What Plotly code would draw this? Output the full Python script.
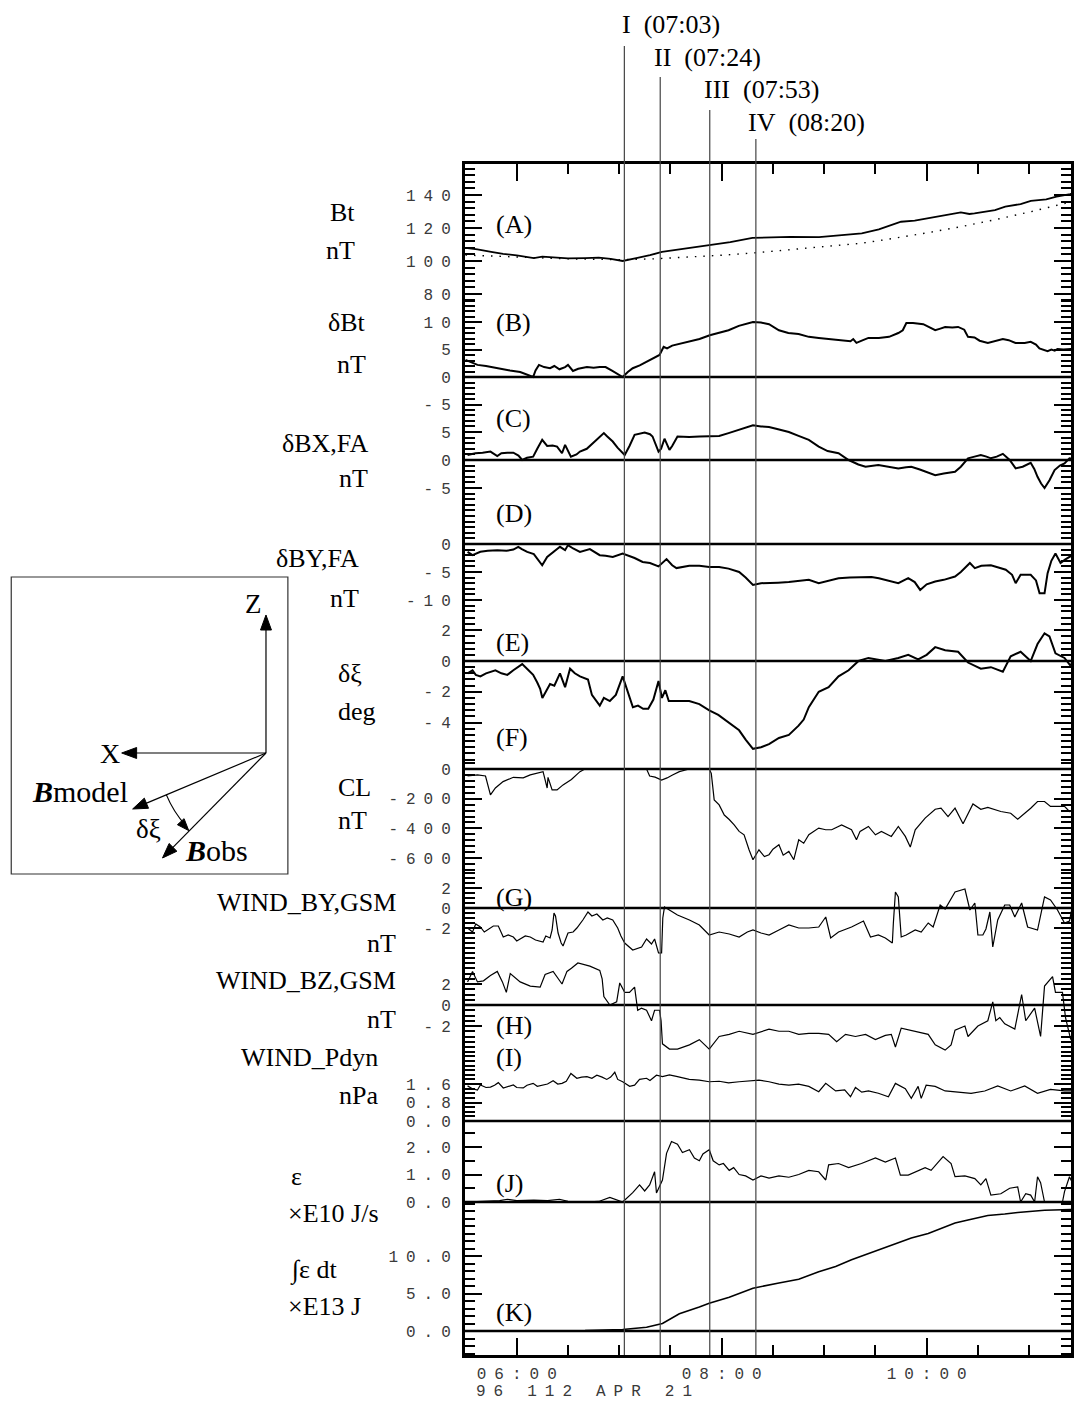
import numpy as np
import plotly.graph_objects as go

# ---------------- data (time = minutes of day, UT, 1996 APR 21) ----------------
bt_t = [330, 337, 345, 352, 360, 366, 370, 375, 380, 390, 400, 408, 415, 422, 430, 438, 445, 455, 465, 473,
        485, 498, 510, 520, 537, 550, 562, 572, 585, 593, 601, 610, 620, 625, 628, 640, 646, 655, 661, 670, 676, 684, 685.3]
bt_v = [107.9, 107.0, 105.5, 104.3, 103.4, 102.2, 101.8, 102.6, 102.2, 101.6, 101.8, 102.0, 101.3, 100.0, 101.8, 103.5,
        105.5, 107.0, 108.8, 109.7, 111.5, 114.0, 114.3, 114.6, 114.5, 115.5, 116.8, 119.2, 123.8, 124.5, 125.9, 127.5,
        129.5, 128.5, 128.8, 130.9, 132.9, 134.5, 136.5, 137.4, 139.0, 140.5, 141.0]
btmod_t = [330, 345, 360, 370, 390, 410, 422, 440, 460, 480, 500, 520, 537, 550, 562, 575, 585, 600, 620, 640, 661, 685.3]
btmod_v = [103.6, 103.0, 102.3, 102.0, 101.3, 101.0, 100.8, 101.3, 102.3, 103.5, 105.0, 106.8, 108.1, 109.3, 110.8,
           112.8, 114.4, 117.0, 120.8, 125.0, 129.9, 136.0]

dbt_t = [330, 337, 342, 348, 352, 356, 362, 366, 369.6, 371, 373, 376, 379.5, 382, 385, 388.3, 390, 392.9, 396, 401.1,
         405, 408.6, 412, 416, 419, 422, 425, 427.9, 432, 437.8, 440, 443.6, 446, 448, 451, 455, 461, 467, 473, 478.5,
         484, 490, 494, 498.3, 503, 507.7, 513.5, 519, 525, 531, 536.8, 542, 548.4, 555.4, 557, 558.9, 562, 565.9, 572,
         578, 583.4, 586, 588.1, 592, 598, 603, 605, 608, 610.8, 615, 618.4, 622, 624.2, 628, 631, 635.8, 640, 644.6,
         648, 652, 657.4, 660.9, 664, 666, 670.8, 673, 675, 676.6, 680, 685.3]
dbt_v = [3.1, 2.2, 2.0, 1.6, 1.4, 1.2, 0.9, 0.5, 0.0, 1.2, 2.2, 1.8, 1.6, 2.0, 1.4, 1.8, 2.2, 1.1, 1.5, 1.8,
         1.7, 1.8, 1.8, 1.1, 0.6, 0.0, 0.9, 1.6, 2.1, 3.1, 3.4, 4.0, 5.5, 5.2, 5.7, 6.0, 6.5, 6.9, 7.6, 8.0,
         8.5, 9.3, 9.6, 10.0, 9.9, 9.6, 8.5, 8.0, 7.8, 7.3, 7.1, 6.9, 6.7, 6.5, 6.9, 6.2, 6.6, 7.1, 7.1,
         7.3, 8.0, 8.5, 9.8, 9.8, 9.6, 8.9, 8.5, 8.8, 9.1, 9.0, 9.1, 8.6, 7.3, 7.2, 6.6, 6.2, 6.5, 6.9,
         6.7, 6.2, 6.2, 6.4, 5.9, 5.2, 4.7, 5.0, 4.8, 5.1, 5.0, 5.1]

dbx_t = [331.2, 335.8, 340, 344.6, 348.6, 351, 354.5, 358, 361, 363.2, 366, 369.6, 372, 374.9, 377.8, 381, 383.6,
         386.5, 388.3, 390, 391.7, 395, 397, 401, 404.6, 408, 411, 413, 416.2, 419, 423.2, 426, 429, 434.9, 438,
         439.5, 443, 444.5, 446.5, 449.4, 451, 454.1, 461, 467, 473, 478.5, 484, 490.2, 498.3, 503, 507.7, 513,
         519.3, 525, 531, 536.8, 542, 548.4, 554.3, 560, 564.2, 571.7, 578, 583.4, 588, 591, 596, 600, 605, 610,
         616.6, 620, 624.2, 628, 631.7, 635, 637.6, 641, 644.6, 648.6, 652.1, 656.2, 660.9, 663, 664.9, 667, 669,
         671.9, 674.9, 678, 680.7, 683.6, 685.3]
dbx_v = [0.9, 1.2, 1.3, 1.5, 0.7, 1.2, 1.3, 1.3, 0.8, 0.0, 0.4, 0.6, 2.0, 3.6, 2.5, 2.6, 2.4,
         1.2, 2.7, 1.5, 0.6, 1.0, 1.5, 2.0, 3.0, 3.8, 4.8, 4.2, 3.3, 2.2, 0.9, 2.5, 4.5, 4.9, 4.6,
         4.2, 1.5, 2.0, 3.8, 1.8, 2.5, 4.2, 4.1, 4.2, 4.3, 4.3, 4.8, 5.4, 6.2, 6.0, 5.9, 5.5,
         5.0, 4.3, 3.6, 2.4, 1.6, 1.2, 0.0, -0.8, -1.2, -0.9, -1.2, -1.5, -1.3, -1.2, -1.7, -2.2, -2.7, -2.4,
         -2.1, -1.2, 0.3, 0.6, 0.9, 0.6, 0.3, 0.6, 1.1, 0.0, -1.5, -1.2, -0.5, -1.6, -3.0, -4.2, -5.0,
         -3.6, -1.8, -1.0, -0.6, 0.3, 0.2]

dby_t = [331.2, 334.1, 338.7, 343, 348.6, 354, 358, 360.9, 363, 366.1, 370, 371.9, 374.9, 377.8, 381, 385.3, 388.3,
         390, 393, 397, 402.8, 408.6, 412, 416.2, 422, 425, 429, 433.7, 438, 443, 447.7, 451, 453.5, 461, 466.9,
         472.7, 478.5, 484, 490.2, 494, 498.3, 503, 507.7, 513, 519.3, 525, 531, 536.8, 542, 548.4, 555, 562,
         567.7, 572, 575.8, 580, 583.4, 589.2, 593, 596.2, 600, 605, 610, 616.6, 620, 625.3, 628.2, 632, 637.6,
         642, 646.3, 650, 652.1, 655, 660.9, 664, 666.1, 669, 670.8, 673, 675.4, 678.4, 681, 685.3]
dby_v = [-1.4, -2.0, -1.4, -1.2, -1.1, -1.2, -1.0, -0.5, -0.9, -1.4, -1.8, -2.5, -3.8, -2.3, -1.5, -0.5, -1.1,
         -0.2, -0.8, -1.4, -0.9, -2.0, -2.1, -2.3, -1.7, -2.0, -2.5, -3.2, -3.4, -4.0, -2.7, -3.8, -4.3, -3.9, -3.9,
         -4.1, -4.1, -4.4, -5.0, -6.0, -7.3, -7.0, -7.0, -6.9, -6.8, -6.6, -6.4, -7.0, -6.6, -6.1, -6.0, -6.0,
         -5.9, -6.1, -6.4, -6.7, -7.0, -6.1, -6.8, -8.2, -7.2, -6.7, -6.4, -5.8, -5.0, -3.4, -4.3, -3.9, -3.8,
         -4.2, -4.6, -5.5, -7.0, -5.5, -5.5, -6.5, -8.8, -8.8, -5.2, -3.0, -1.7, -3.4, -2.8, -2.0]

dxi_t = [331.2, 334.1, 336, 338.7, 342, 347.5, 351, 354.5, 358, 363.2, 366, 369.6, 372, 373.7, 375, 377, 379.5, 382,
         385.3, 388.3, 391.2, 394, 397, 401.7, 404, 408.6, 411, 414.5, 418, 422, 425, 428, 431, 434, 437, 440, 443,
         445, 447, 449, 455.2, 461, 466.9, 472.7, 478, 484.4, 490.2, 494, 498.3, 503, 507.7, 513.5, 519.3, 525, 528,
         531, 536.8, 542.6, 548.4, 554.3, 560.1, 565.9, 575.8, 583.4, 589.2, 595, 600, 605, 610.8, 618.4, 624.2,
         631.7, 637.6, 644.6, 649.2, 655, 660.9, 664.9, 669, 671.9, 675.4, 680.7, 684.2, 685.3]
dxi_v = [-0.8, -0.6, -0.9, -1.0, -0.8, -0.6, -0.8, -0.9, -0.6, -0.2, -0.5, -0.9, -1.4, -1.8, -2.4, -2.0, -1.5, -1.6,
         -0.8, -1.7, -0.5, -0.8, -1.0, -1.2, -2.2, -2.9, -2.4, -2.6, -2.2, -1.0, -2.0, -3.0, -2.9, -3.1, -3.1, -2.5, -1.3,
         -2.4, -1.9, -2.6, -2.6, -2.6, -2.8, -3.2, -3.5, -4.0, -4.5, -5.1, -5.7, -5.6, -5.4, -5.0, -4.8, -4.2, -3.8,
         -3.0, -2.0, -1.7, -1.0, -0.6, 0.0, 0.2, 0.0, 0.2, 0.4, 0.1, 0.4, 0.9, 0.7, 0.6, -0.1,
         -0.5, -0.4, -0.7, 0.3, 0.6, 0.0, 1.1, 1.8, 1.6, 0.5, 0.2, -0.3, -0.1]

cl_t = [331.2, 337, 341.7, 344.6, 347.5, 352, 358, 363.8, 367.9, 371.9, 375.4, 377.8, 378.3, 380.7, 383.6, 387.1,
        392, 397, 399.9, 412.7, 420, 430, 436, 437.8, 441, 444.8, 448, 451.2, 455.2, 461, 466.9, 472.7, 473.9,
        475.6, 478.5, 481.5, 484.4, 487.3, 490.2, 493.1, 496, 498.3, 501.8, 505, 507.7, 510, 513.5, 516, 519.3,
        522.2, 525.1, 528, 531, 533.9, 536.8, 540.9, 544.4, 550.2, 556, 558.9, 561, 565.9, 570, 573.5, 579.3,
        583.4, 587.5, 590.4, 593.3, 599.1, 605, 608.4, 612.5, 616.6, 621.3, 627.1, 631.7, 635.8, 643.4, 649.2,
        653.3, 660.9, 664.9, 669, 672.5, 680.7, 683.6, 685.3]
cl_v = [-47, -40, -47, -174, -128, -85, -56, -60, -40, -29, -18, -128, -56, -141, -141, -107,
        -70, -18, 0, 0, 0, -2, 0, -47, -55, -74, -60, -40, -18, 0, 0, 0, -30,
        -208, -242, -310, -340, -376, -420, -443, -544, -611, -544, -590, -577, -540, -510, -580, -555,
        -611, -477, -500, -443, -420, -398, -409, -409, -376, -409, -477, -420, -387, -443, -421, -454,
        -387, -454, -526, -409, -331, -271, -264, -320, -264, -369, -235, -271, -258, -286, -298,
        -338, -264, -219, -219, -252, -252, -286, -280]

wby_t = [331.2, 334.1, 336, 338.7, 341, 342.8, 346.3, 349.2, 352.1, 355, 358, 360, 362, 365, 367.9, 371, 375.4,
         377, 379.5, 380.7, 381.8, 382.7, 384.2, 386, 387.1, 390, 393, 395.2, 398.7, 401.7, 404, 406.9, 410.4, 413,
         416.2, 419.1, 421, 423.2, 427.9, 433.1, 436, 438.9, 440.7, 443, 444.8, 445.5, 446.5, 449.4, 454.1, 461.1,
         466.9, 472.7, 478.5, 484.4, 490.2, 495, 498.3, 503, 507.7, 513.5, 519.3, 525.1, 531, 536.8, 540.9, 543.8,
         548.4, 556, 563, 567.1, 571.7, 575.8, 579.9, 580.5, 581.7, 583.4, 585.1, 588, 593.3, 596.8, 600.9, 603.8,
         607.9, 610.8, 613, 616.6, 622.4, 625.3, 628.2, 630, 632.9, 634.7, 637, 638.7, 641.6, 645.7, 648.6, 651.6,
         655.6, 659.1, 664.9, 669, 672.5, 676.6, 680.7, 683.6, 685.3]
wby_v = [-2.0, -2.4, -1.6, -1.9, -2.4, -2.2, -1.8, -1.8, -2.9, -2.7, -2.9, -3.3, -3.1, -2.8, -2.9, -3.2, -3.4,
         -2.8, -3.0, -2.2, -0.5, -0.8, -2.5, -3.5, -3.8, -2.5, -2.4, -2.0, -1.2, -0.4, -0.8, -0.6, -1.2, -1.0,
         -1.2, -2.0, -2.8, -3.5, -4.2, -3.9, -3.1, -3.6, -3.1, -4.5, -4.5, -1.0, 0.1, -0.2, -0.7, -1.2,
         -1.7, -2.7, -2.4, -2.6, -2.9, -2.4, -2.2, -2.5, -2.7, -2.2, -1.7, -2.0, -2.0, -1.9, -0.9, -3.0,
         -2.4, -1.9, -1.3, -2.9, -2.7, -3.0, -3.5, -1.5, 1.6, 1.1, -2.9, -2.7, -2.2, -2.4, -1.5, -1.9,
         0.3, -0.1, 0.6, 1.6, 1.9, -0.2, 0.5, -2.7, -2.7, -2.1, -0.4, -3.9, -1.2, 0.3, 0.3, -0.9,
         0.5, -1.9, -2.2, 1.1, 0.8, -0.2, -1.5, -1.3, 0.2]

wbz_t = [331.2, 334.1, 337, 340.5, 344.6, 348.6, 351.6, 353.9, 356.2, 359, 362, 367.9, 373.7, 376.6, 381.3, 386.5,
         389.4, 392, 395.8, 402.8, 408.6, 410, 411, 414.5, 418.5, 420.3, 423.2, 426, 429, 430.8, 433, 436, 438.9,
         440.7, 443.6, 444.5, 445.3, 449.4, 454.1, 461.1, 466.9, 472.7, 478.5, 484.4, 490.2, 498.3, 507.7, 513.5,
         519.3, 525.1, 531, 536.8, 542.6, 547.3, 552.5, 558.3, 564.2, 570, 575.8, 579.3, 581.7, 585.1, 593.3,
         600.9, 605, 610.8, 614.3, 616.6, 622.4, 624.2, 630, 635.8, 638.7, 640.5, 642.8, 645.7, 651.6, 655.6, 658,
         663.2, 666.7, 669, 673.7, 675.4, 679.5, 681.3, 684.2, 685.3]
wbz_v = [2.2, 3.2, 2.2, 2.3, 2.8, 3.2, 2.2, 1.2, 3.0, 2.6, 2.2, 1.8, 1.7, 2.9, 3.2, 2.0,
         3.2, 3.5, 4.0, 3.7, 3.3, 2.5, 0.8, 0.0, 0.3, 2.1, 1.2, 1.2, 1.7, -0.5, -0.3, -0.5, -1.5,
         -0.5, -0.5, -1.5, -3.7, -4.2, -4.2, -3.8, -3.3, -4.2, -3.0, -2.8, -2.5, -2.8, -2.3, -2.5,
         -2.5, -2.8, -2.7, -2.7, -2.8, -3.5, -2.8, -3.0, -2.8, -3.3, -2.9, -2.8, -4.0, -2.2, -2.5,
         -2.8, -3.8, -4.3, -3.8, -2.4, -2.0, -3.0, -2.0, -1.5, 0.3, -1.5, -1.2, -1.8, -2.3, 1.0, -1.5,
         -0.3, -3.0, 1.8, 2.7, 1.2, 1.2, -1.2, -3.2, -3.5]

pdyn_t = [331.2, 334, 337, 338.7, 342, 344.6, 347, 349.2, 352.1, 355, 358, 360, 363.8, 366, 369.6, 372, 375.4, 378,
          381.3, 384, 386.5, 389, 391.7, 395.2, 398, 401.1, 404, 406.9, 410, 412.7, 415, 417.4, 419.1, 422, 426.1,
          429, 431.9, 436, 438, 441.8, 445.3, 449.4, 454.1, 461, 466.9, 472.7, 478.5, 484, 490.2, 496, 501.8, 507.7,
          513.5, 519.3, 525, 531, 536.8, 540.9, 546.7, 552, 555.4, 558.3, 562, 565.9, 571.7, 577.6, 581.7, 587.5,
          591, 595, 596.8, 599.7, 605, 610.8, 618.4, 626, 634, 641.6, 649.2, 657.4, 664.9, 672.5, 680.7, 685.3]
pdyn_v = [1.52, 1.40, 1.34, 1.56, 1.45, 1.47, 1.55, 1.66, 1.43, 1.50, 1.56, 1.45, 1.43, 1.55, 1.63, 1.50, 1.56, 1.60,
          1.74, 1.60, 1.63, 1.72, 2.06, 1.85, 1.90, 1.92, 1.85, 1.98, 1.90, 1.80, 1.90, 2.11, 1.80, 1.70, 1.50,
          1.55, 1.80, 1.85, 1.75, 1.98, 1.92, 2.00, 1.92, 1.80, 1.77, 1.70, 1.72, 1.65, 1.70, 1.75, 1.77, 1.70,
          1.60, 1.55, 1.60, 1.50, 1.27, 1.63, 1.30, 1.35, 1.05, 1.45, 1.25, 1.30, 1.20, 1.05, 1.63, 1.40,
          0.98, 1.50, 0.98, 1.55, 1.50, 1.30, 1.25, 1.20, 1.30, 1.52, 1.30, 1.52, 1.20, 1.37, 1.30, 1.30]

eps_t = [330, 340, 350, 354.5, 360, 370, 378, 385, 390, 400, 408, 414.5, 418, 422, 427.9, 431.9, 434.9, 437.8,
         440.7, 441.8, 445.3, 447.7, 450.6, 454.1, 457, 461.1, 464, 466.9, 469, 472.7, 475, 478.5, 481, 484.4, 487,
         490.2, 494, 498.3, 503, 507.7, 513.5, 519.3, 525.1, 531, 536.8, 540.9, 542.6, 548.4, 554.3, 561.8, 570,
         575.8, 581.7, 584.6, 589.2, 595, 599.1, 602.6, 609.6, 614.3, 616.6, 622.4, 628.2, 631.7, 634.7, 637.6,
         643.4, 648.6, 653.3, 655, 658, 660.9, 663.2, 664.9, 666.7, 669, 679.5, 680.7, 683.6, 685.3]
eps_v = [0.0, 0.02, 0.05, 0.10, 0.05, 0.07, 0.05, 0.10, 0.02, 0.0, 0.02, 0.17, 0.10, 0.0, 0.34, 0.62, 0.40, 0.62,
         1.10, 0.33, 0.80, 1.77, 2.20, 2.10, 1.80, 1.90, 1.60, 1.50, 1.75, 1.90, 1.50, 1.35, 1.40, 1.15, 1.25,
         1.00, 0.95, 0.80, 0.95, 0.87, 0.95, 0.90, 1.00, 1.15, 1.10, 0.80, 1.35, 1.40, 1.25, 1.40, 1.60,
         1.45, 1.60, 0.98, 0.98, 1.15, 1.25, 1.15, 1.65, 1.40, 0.92, 0.95, 0.85, 0.62, 0.85, 0.25,
         0.30, 0.50, 0.55, 0.0, 0.30, 0.25, 0.0, 0.92, 0.70, 0.0, 0.0, 0.38, 0.92, 0.70]

ieps_t = [330, 400, 422, 436, 445.3, 455.2, 466.9, 472.7, 484.4, 498.3, 513.5, 525.1, 536.8, 546.7, 556, 565.9,
          575.8, 583.4, 591, 600.9, 608.4, 616.6, 624.2, 635.8, 645.7, 653.3, 669, 685.3]
ieps_v = [0.0, 0.05, 0.2, 0.5, 1.0, 2.3, 3.2, 3.7, 4.5, 5.7, 6.4, 6.9, 7.9, 8.6, 9.5, 10.3,
          11.2, 11.8, 12.4, 13.0, 13.7, 14.4, 14.8, 15.4, 15.6, 15.8, 16.1, 16.2]

event_t = [423, 444, 473, 500]
event_lbl = ["I\u00a0\u00a0(07:03)", "II\u00a0\u00a0(07:24)", "III\u00a0\u00a0(07:53)", "IV\u00a0\u00a0(08:20)"]

SP = "\u2002"  # spaced-out tick lettering
def spaced(s):
    return SP.join(list(s))

x_tickvals = [360, 480, 600]
x_ticktext = [spaced("06:00"), spaced("08:00"), spaced("10:00")]

# ---------------- layout helpers (pixel geometry) ----------------
PX_L, PX_R, PY_T, PY_B = 465, 1074, 164, 1355
def px2x(px):
    return (px - PX_L) / (PX_R - PX_L)
def py2y(py):
    return (PY_B - py) / (PY_B - PY_T)

SERIF = "Liberation Serif"
MONO = "Liberation Mono"
TICKFONT = dict(family=MONO, size=16, color="#3a3a3a")

# panel: (zero pixel, px per unit, tickvals, ticktext, minor values, panel label, label y px)
panels = [
    (426, 1.65, [140, 120, 100, 80], ["140", "120", "100", "80"], np.arange(76, 160, 4), "(A)", 225),
    (377, 5.5, [10, 5, 0, -5], ["10", "5", "0", "-5"], np.arange(-6, 15, 1), "(B)", 322),
    (460, 5.6, [5, 0, -5], ["5", "0", "-5"], np.arange(-6, 9, 1), "(C)", 418),
    (544, 5.6, [0, -5, -10], ["0", "-5", "-10"], np.arange(-12, 9, 1), "(D)", 513),
    (661, 15.4, [2, 0, -2, -4], ["2", "0", "-2", "-4"], np.arange(-6.4, 3.0, 0.4), "(E)", 642),
    (769, 0.1485, [0, -200, -400, -600], ["0", "-200", "-400", "-600"], np.arange(-680, 80, 40), "(F)", 737),
    (908, 10.0, [2, 0, -2], ["2", "0", "-2"], np.arange(-4.5, 4.0, 0.5), "(G)", 897),
    (1005, 10.5, [2, 0, -2], ["2", "0", "-2"], np.arange(-3, 5.0, 0.5), "(H)", 1025),
    (1121, 23.1, [1.6, 0.8, 0.0], ["1.6", "0.8", "0.0"], np.arange(0, 3.6, 0.2), "(I)", 1057),
    (1202, 27.5, [2.0, 1.0, 0.0], ["2.0", "1.0", "0.0"], np.arange(0, 3.0, 0.5), "(J)", 1183),
    (1331, 7.5, [10, 5, 0], ["10.0", "5.0", "0.0"], np.arange(-3, 18, 1), "(K)", 1312),
]

fig = go.Figure()

def yname(i):
    return "y" if i == 0 else f"y{i+1}"

traces = [
    (bt_t, bt_v, 0, 1.8, "solid"),
    (btmod_t, btmod_v, 0, 1.4, "1.5px,7px"),
    (dbt_t, dbt_v, 1, 2.0, "solid"),
    (dbx_t, dbx_v, 2, 2.0, "solid"),
    (dby_t, dby_v, 3, 2.0, "solid"),
    (dxi_t, dxi_v, 4, 2.0, "solid"),
    (cl_t, cl_v, 5, 1.2, "solid"),
    (wby_t, wby_v, 6, 1.2, "solid"),
    (wbz_t, wbz_v, 7, 1.2, "solid"),
    (pdyn_t, pdyn_v, 8, 1.2, "solid"),
    (eps_t, eps_v, 9, 1.2, "solid"),
    (ieps_t, ieps_v, 10, 1.6, "solid"),
]
for t, v, i, w, d in traces:
    fig.add_trace(go.Scatter(x=t, y=v, yaxis=yname(i), mode="lines",
                             line=dict(color="black", width=w, dash=d), showlegend=False,
                             hoverinfo="skip"))

layout = dict(
    width=1076, height=1403,
    margin=dict(l=PX_L, r=1076 - PX_R, t=PY_T, b=1403 - PY_B),
    paper_bgcolor="white", plot_bgcolor="white",
    showlegend=False,
    xaxis=dict(range=[329.7, 684.5], tickmode="array", tickvals=x_tickvals, ticktext=x_ticktext,
               ticks="inside", ticklen=17, tickwidth=2, tickcolor="black",
               showline=True, linewidth=3, linecolor="black", mirror="ticks",
               showgrid=False, zeroline=False, ticklabelstandoff=2,
               tickfont=TICKFONT,
               minor=dict(tickmode="array", tickvals=list(range(330, 690, 30)), ticks="inside",
                          ticklen=10, tickwidth=2, tickcolor="black", showgrid=False)),
)
for i, (p0, s, tv, tt, mv, lab, ly) in enumerate(panels):
    ax = dict(range=[(p0 - PY_B) / s, (p0 - PY_T) / s], tickmode="array", tickvals=tv,
              ticktext=[spaced(x) for x in tt],
              ticks="inside", ticklen=17, tickwidth=2, tickcolor="black",
              showline=True, linewidth=3, linecolor="black", mirror="ticks",
              showgrid=False, zeroline=False, ticklabelstandoff=8,
              tickfont=TICKFONT,
              minor=dict(tickmode="array", tickvals=[float(round(m, 3)) for m in mv], ticks="inside",
                         ticklen=10, tickwidth=2, tickcolor="black", showgrid=False))
    if i > 0:
        ax.update(overlaying="y", anchor="x", side="left")
    layout["yaxis" if i == 0 else f"yaxis{i+1}"] = ax
fig.update_layout(**layout)

shapes = []
annots = []

# zero lines (panels B..K)
for i in range(1, len(panels)):
    shapes.append(dict(type="line", xref="paper", x0=0, x1=1, yref=yname(i), y0=0, y1=0,
                       line=dict(color="black", width=2.5)))

# event lines and labels
ev_top = [46, 77, 110, 139]
ev_lab_y = [25, 58, 90, 122]
ev_shift = [-4, -8, -8, -10]
for t, top, ly, sh, txt in zip(event_t, ev_top, ev_lab_y, ev_shift, event_lbl):
    shapes.append(dict(type="line", xref="x", x0=t, x1=t, yref="paper", y0=0, y1=py2y(top),
                       line=dict(color="#444", width=1.2)))
    annots.append(dict(text=txt, xref="x", x=t, xanchor="left", xshift=sh, yref="paper", y=py2y(ly),
                       yanchor="middle", showarrow=False, font=dict(family=SERIF, size=26, color="black")))

# panel letters
for (p0, s, tv, tt, mv, lab, ly) in panels:
    annots.append(dict(text=lab, xref="paper", x=px2x(494), xanchor="left", yref="paper", y=py2y(ly),
                       yanchor="middle", showarrow=False, font=dict(family=SERIF, size=26, color="black")))

# left side quantity labels
side_labels = [
    ("Bt", 356, "right", 212), ("nT", 356, "right", 251),
    ("δBt", 368, "right", 322), ("nT", 368, "right", 365),
    ("δBX,FA", 370, "right", 443), ("nT", 370, "right", 478),
    ("δBY,FA", 360, "right", 558), ("nT", 360, "right", 598),
    ("δξ", 335, "left", 673), ("deg", 335, "left", 711),
    ("CL", 335, "left", 787), ("nT", 335, "left", 820),
    ("WIND_BY,GSM", 398, "right", 902), ("nT", 398, "right", 943),
    ("WIND_BZ,GSM", 398, "right", 980), ("nT", 398, "right", 1019),
    ("WIND_Pdyn", 380, "right", 1057), ("nPa", 380, "right", 1095),
    ("ε", 288, "left", 1176), ("×E10 J/s", 285, "left", 1213),
    ("∫ε dt", 287, "left", 1270), ("×E13 J", 285, "left", 1306),
]
for txt, x, xa, y in side_labels:
    annots.append(dict(text=txt, xref="paper", x=px2x(x), xanchor=xa, yref="paper", y=py2y(y),
                       yanchor="middle", showarrow=False, font=dict(family=SERIF, size=26, color="black")))

# date line under the time axis
date_txt = (SP * 3).join(spaced(w) for w in ["96", "112", "APR", "21"])
annots.append(dict(text=date_txt, xref="paper", x=px2x(475), xanchor="left", yref="paper", y=py2y(1392),
                   yanchor="middle", showarrow=False, font=TICKFONT, borderpad=0))

# ---------------- inset coordinate sketch ----------------
def pline(x0, y0, x1, y1, w=1.2, c="black"):
    shapes.append(dict(type="line", xref="paper", yref="paper", x0=px2x(x0), y0=py2y(y0), x1=px2x(x1),
                       y1=py2y(y1), line=dict(color=c, width=w)))

def arrowhead(tx, ty, dx, dy, L=15, W=5.5):
    n = np.hypot(dx, dy)
    ux, uy = dx / n, dy / n
    bx, by = tx - L * ux, ty - L * uy
    p1 = (bx - W * uy, by + W * ux)
    p2 = (bx + W * uy, by - W * ux)
    path = "M {:.5f},{:.5f} L {:.5f},{:.5f} L {:.5f},{:.5f} Z".format(
        px2x(tx), py2y(ty), px2x(p1[0]), py2y(p1[1]), px2x(p2[0]), py2y(p2[1]))
    shapes.append(dict(type="path", xref="paper", yref="paper", path=path,
                       fillcolor="black", line=dict(color="black", width=1)))

shapes.append(dict(type="rect", xref="paper", yref="paper", x0=px2x(9), y0=py2y(577), x1=px2x(287),
                   y1=py2y(874), line=dict(color="#333", width=1.2)))
ox, oy = 265, 753
for tx, ty in [(265, 615), (120, 753), (131, 809), (161, 858)]:
    n = np.hypot(tx - ox, ty - oy)
    pline(ox, oy, tx - 10 * (tx - ox) / n, ty - 10 * (ty - oy) / n)
    arrowhead(tx, ty, tx - ox, ty - oy)

# angle arc from Bmodel to Bobs
r = 108.5
a1, a2 = np.deg2rad(157.3), np.deg2rad(138.0)
am = (a1 + a2) / 2
rc = r / np.cos((a1 - a2) / 2)
sx, sy = ox + r * np.cos(a1), oy + r * np.sin(a1)
cx, cy = ox + rc * np.cos(am), oy + rc * np.sin(am)
ex, ey = ox + r * np.cos(a2), oy + r * np.sin(a2)
shapes.append(dict(type="path", xref="paper", yref="paper",
                   path="M {:.5f},{:.5f} Q {:.5f},{:.5f} {:.5f},{:.5f}".format(
                       px2x(sx), py2y(sy), px2x(cx), py2y(cy), px2x(ex), py2y(ey)),
                   line=dict(color="black", width=1.2)))
arrowhead(ex + 3, ey + 5, ex - cx, ey - cy, L=12, W=4.5)

for txt, x, y, fs in [("Z", 252, 604, 27), ("X", 108, 753, 28), ("<b><i>B</i></b>model", 78, 791, 30),
                      ("δξ", 147, 829, 27), ("<b><i>B</i></b>obs", 215, 850, 30)]:
    annots.append(dict(text=txt, xref="paper", x=px2x(x), xanchor="center", yref="paper", y=py2y(y),
                       yanchor="middle", showarrow=False, font=dict(family=SERIF, size=fs, color="black")))

fig.update_layout(shapes=shapes, annotations=annots)
fig.write_html("out.html")
